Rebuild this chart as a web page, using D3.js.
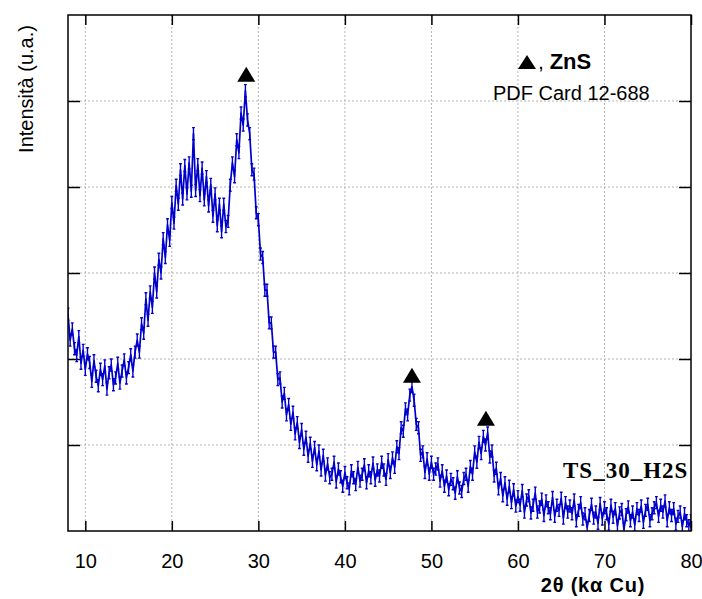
<!DOCTYPE html>
<html>
<head>
<meta charset="utf-8">
<script src="https://cdn.jsdelivr.net/npm/d3@7"></script>
<style>
    body { margin: 0; background: #fff; }
    svg { display: block; font-family: "Liberation Sans", Arial, sans-serif; }
</style>
</head>
<body>
<div id="chart"></div>
<script>
// 2theta scan: first angle and step (degrees)
const twoThetaStart = 8;
const twoThetaStep = 0.25;

// intensity (arbitrary units, one grid line = 1)
const intensity = [
    2.52, 2.22, 2.35, 2.12, 2.04, 2.26, 1.95, 2.10,
    1.88, 2.06, 1.96, 1.74, 1.98, 1.80, 1.69, 1.88,
    1.76, 1.92, 1.65, 1.84, 1.93, 1.70, 1.78, 1.95,
    1.72, 1.86, 1.99, 1.78, 1.90, 2.05, 1.86, 2.08,
    2.22, 2.08, 2.41, 2.30, 2.70, 2.45, 2.78, 2.60,
    3.00, 2.78, 3.16, 3.00, 3.40, 3.18, 3.56, 3.38,
    3.82, 3.58, 4.02, 3.80, 4.20, 3.86, 4.25, 3.92,
    4.28, 3.95, 4.62, 3.96, 4.26, 3.90, 4.22, 3.85,
    4.12, 3.78, 4.03, 3.66, 3.92, 3.55, 3.80, 3.48,
    3.80, 3.54, 3.60, 4.02, 4.28, 4.12, 4.55, 4.40,
    4.86, 4.72, 5.12, 4.78, 4.62, 4.20, 4.15, 3.70,
    3.62, 3.22, 3.18, 2.80, 2.80, 2.42, 2.42, 2.08,
    2.08, 1.76, 1.78, 1.50, 1.60, 1.35, 1.47, 1.24,
    1.38, 1.13, 1.26, 1.03, 1.18, 0.95, 1.09, 0.87,
    1.02, 0.81, 0.97, 0.77, 0.93, 0.71, 0.88, 0.65,
    0.78, 0.62, 0.66, 0.80, 0.57, 0.72, 0.63, 0.52,
    0.68, 0.56, 0.49, 0.70, 0.62, 0.54, 0.74, 0.58,
    0.66, 0.77, 0.56, 0.70, 0.62, 0.79, 0.59, 0.71,
    0.64, 0.80, 0.71, 0.60, 0.83, 0.68, 0.85, 0.74,
    0.98, 0.90, 1.20, 1.16, 1.42, 1.35, 1.58, 1.68,
    1.52, 1.24, 1.20, 0.88, 0.92, 0.68, 0.84, 0.66,
    0.80, 0.66, 0.72, 0.78, 0.58, 0.70, 0.52, 0.64,
    0.48, 0.60, 0.55, 0.44, 0.63, 0.50, 0.46, 0.61,
    0.66, 0.52, 0.75, 0.66, 0.92, 0.80, 1.03, 0.90,
    1.10, 1.00, 1.14, 0.86, 0.93, 0.64, 0.73, 0.49,
    0.61, 0.41, 0.56, 0.37, 0.52, 0.33, 0.48, 0.29,
    0.40, 0.30, 0.47, 0.22, 0.36, 0.41, 0.21, 0.30,
    0.44, 0.22, 0.28, 0.37, 0.18, 0.35, 0.27, 0.20,
    0.39, 0.17, 0.30, 0.24, 0.38, 0.15, 0.33, 0.22,
    0.29, 0.20, 0.36, 0.12, 0.24, 0.33, 0.14, 0.20,
    0.04, 0.18, 0.31, 0.15, 0.22, 0.09, 0.32, 0.14,
    0.27, 0.20, 0.08, 0.30, 0.16, 0.26, 0.06, 0.21,
    0.25, 0.02, 0.19, 0.28, 0.12, 0.22, 0.07, 0.26,
    0.18, 0.29, 0.10, 0.24, 0.31, 0.12, 0.20, 0.27,
    0.33, 0.17, 0.30, 0.22, 0.35, 0.12, 0.27, 0.18,
    0.26, 0.08, 0.17, 0.22, 0.05, 0.20, 0.12, 0.06,
    0.12
];
// half height of the error bars
const errorHalf = 0.07;

// ZnS reflections (2theta, top of the peak)
const peakAngles = [28.6, 47.75, 56.3];
const peakTops = [5.19, 1.69, 1.19];

const xTicks = [10, 20, 30, 40, 50, 60, 70, 80];
const yTicks = [1, 2, 3, 4, 5];

const data = intensity.map((v, i) => ({ x: twoThetaStart + i * twoThetaStep, y: v }));

// Specify the chart's dimensions.
const width = 702;
const height = 599;
const marginTop = 15;
const marginRight = 11;
const marginBottom = 68;
const marginLeft = 68;
const blue = "#0000cd";

const x = d3.scaleLinear()
    .domain([8, 80])
    .range([marginLeft, width - marginRight]);

const y = d3.scaleLinear()
    .domain([0, 6])
    .range([height - marginBottom, marginTop]);

const svg = d3.select("#chart")
    .append("svg")
    .attr("width", width)
    .attr("height", height);

svg.append("defs").append("clipPath")
    .attr("id", "plotClip")
    .append("rect")
    .attr("x", marginLeft)
    .attr("y", marginTop)
    .attr("width", width - marginLeft - marginRight)
    .attr("height", height - marginTop - marginBottom);

// dotted grid
const grid = svg.append("g")
    .attr("stroke", "#b4b4b4")
    .attr("stroke-width", 1)
    .attr("stroke-dasharray", "2,2");

grid.selectAll("line.gx")
    .data(xTicks.filter((t) => t < 80))
    .enter()
    .append("line")
    .attr("x1", (d) => x(d))
    .attr("x2", (d) => x(d))
    .attr("y1", marginTop)
    .attr("y2", height - marginBottom);

grid.selectAll("line.gy")
    .data(yTicks)
    .enter()
    .append("line")
    .attr("x1", marginLeft)
    .attr("x2", width - marginRight)
    .attr("y1", (d) => y(d))
    .attr("y2", (d) => y(d));

// axes, ticks pointing in
svg.append("g")
    .attr("transform", `translate(0,${height - marginBottom})`)
    .call(d3.axisBottom(x).tickValues(xTicks).tickSize(-10).tickPadding(23))
    .call((g) => g.select(".domain").remove())
    .call((g) => g.selectAll("line").attr("stroke-width", 1.5))
    .call((g) =>
        g.selectAll("text")
            .attr("font-size", 20)
            .attr("font-family", "Liberation Sans, Arial, sans-serif")
            .attr("fill", "#000")
    );

svg.append("g")
    .attr("transform", `translate(0,${marginTop})`)
    .call(d3.axisTop(x).tickValues(xTicks).tickSize(-10).tickFormat(""))
    .call((g) => g.select(".domain").remove())
    .call((g) => g.selectAll("line").attr("stroke-width", 1.5));

svg.append("g")
    .attr("transform", `translate(${marginLeft},0)`)
    .call(d3.axisLeft(y).tickValues(yTicks).tickSize(-12).tickFormat(""))
    .call((g) => g.select(".domain").remove())
    .call((g) => g.selectAll("line").attr("stroke-width", 1.5));

svg.append("g")
    .attr("transform", `translate(${width - marginRight},0)`)
    .call(d3.axisRight(y).tickValues(yTicks).tickSize(-12).tickFormat(""))
    .call((g) => g.select(".domain").remove())
    .call((g) => g.selectAll("line").attr("stroke-width", 1.5));

// data: line plus error bars
const plot = svg.append("g").attr("clip-path", "url(#plotClip)");

plot.append("path")
    .datum(data)
    .attr("fill", "none")
    .attr("stroke", blue)
    .attr("stroke-width", 1.7)
    .attr("stroke-linejoin", "round")
    .attr("d", d3.line().x((d) => x(d.x)).y((d) => y(d.y)));

plot.append("g")
    .attr("stroke", blue)
    .attr("stroke-width", 1.4)
    .selectAll("path")
    .data(data)
    .enter()
    .append("path")
    .attr("fill", "none")
    .attr("d", (d) => {
        const cx = x(d.x);
        const y0 = y(d.y - errorHalf);
        const y1 = y(d.y + errorHalf);
        return `M${cx - 1.4},${y0}H${cx + 1.4}M${cx},${y0}V${y1}M${cx - 1.4},${y1}H${cx + 1.4}`;
    });

// frame
svg.append("rect")
    .attr("x", marginLeft)
    .attr("y", marginTop)
    .attr("width", width - marginLeft - marginRight)
    .attr("height", height - marginTop - marginBottom)
    .attr("fill", "none")
    .attr("stroke", "#000")
    .attr("stroke-width", 1.5);

// peak markers
const triangle = (cx, by, w, h) => `M${cx - w / 2},${by}L${cx + w / 2},${by}L${cx},${by - h}Z`;

svg.append("g")
    .selectAll("path")
    .data(peakAngles)
    .enter()
    .append("path")
    .attr("fill", "#000")
    .attr("d", (d, i) => triangle(x(d), y(peakTops[i]) - 3, 18, 15));

// legend
svg.append("path")
    .attr("fill", "#000")
    .attr("d", triangle(527, 69, 18, 14));

svg.append("text")
    .attr("x", 538)
    .attr("y", 69)
    .attr("font-size", 21)
    .call((t) => t.append("tspan").text(", "))
    .call((t) => t.append("tspan").attr("font-weight", "bold").attr("font-size", 22).text("ZnS"));

svg.append("text")
    .attr("x", 493)
    .attr("y", 100)
    .attr("font-size", 20)
    .text("PDF Card 12-688");

svg.append("text")
    .attr("x", 563)
    .attr("y", 478)
    .attr("font-family", "Liberation Serif, Times New Roman, serif")
    .attr("font-weight", "bold")
    .attr("font-size", 23)
    .attr("letter-spacing", 1)
    .text("TS_30_H2S");

// axis titles
svg.append("text")
    .attr("transform", "translate(33,89) rotate(-90)")
    .attr("text-anchor", "middle")
    .attr("font-size", 20)
    .text("Intensità (u.a.)");

svg.append("text")
    .attr("x", 593)
    .attr("y", 592)
    .attr("text-anchor", "middle")
    .attr("font-weight", "bold")
    .attr("font-size", 20)
    .attr("letter-spacing", 0.8)
    .text("2θ (kα Cu)");
</script>
</body>
</html>
